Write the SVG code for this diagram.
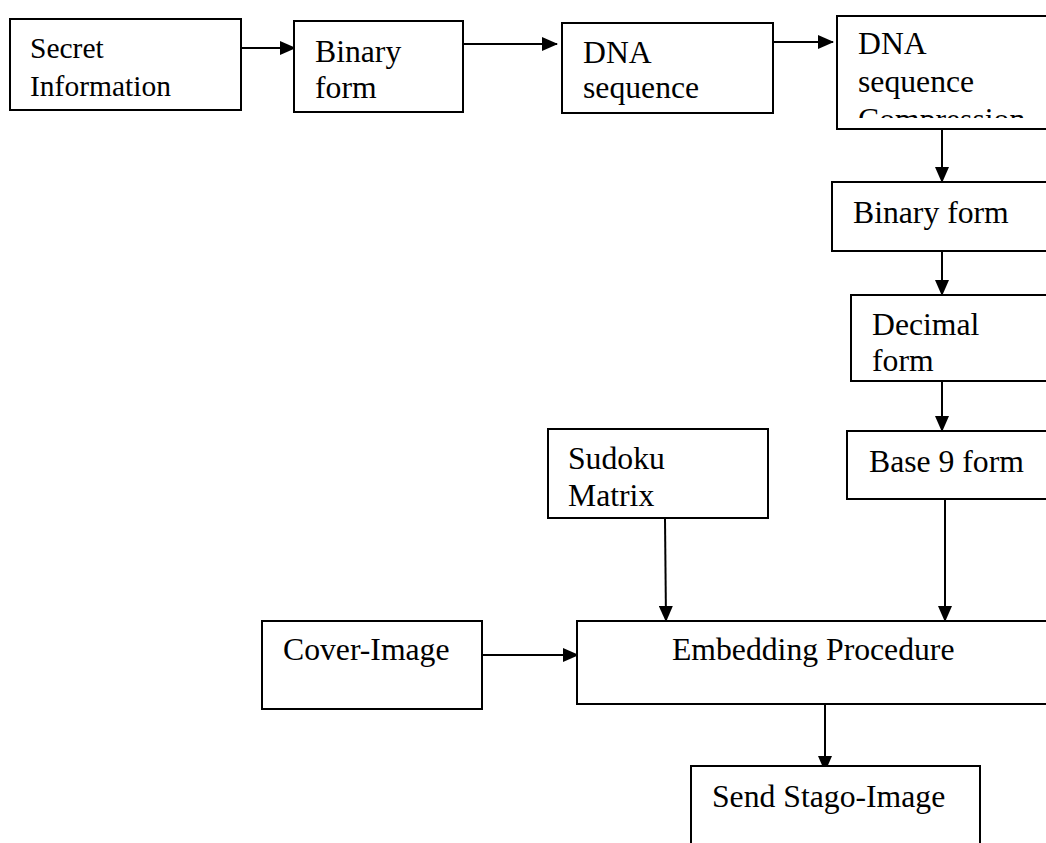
<svg xmlns="http://www.w3.org/2000/svg" width="1046" height="843" viewBox="0 0 1046 843">
<style>
.box{fill:#fff;stroke:#000;stroke-width:2}
.t{font-family:"Liberation Serif","Times New Roman",serif;font-size:31.7px;fill:#000}
.s{font-size:29.5px}
.c{stroke:#000;stroke-width:2;fill:none;marker-end:url(#ah)}
</style>
<defs>
<marker id="ah" markerUnits="userSpaceOnUse" markerWidth="16" markerHeight="14" refX="15" refY="7" orient="auto">
<path d="M0,0 L16,7 L0,14 Z" fill="#000"/>
</marker>
<clipPath id="clipC"><rect x="837" y="16" width="220" height="102"/></clipPath>
</defs>
<rect width="1046" height="843" fill="#fff"/>
<g id="connectors">
<line class="c" x1="241" y1="48" x2="295" y2="48"/>
<line class="c" x1="464" y1="44" x2="557" y2="44"/>
<line class="c" x1="773" y1="42" x2="833" y2="42"/>
<line class="c" x1="942" y1="129" x2="942" y2="182"/>
<line class="c" x1="942" y1="251" x2="942" y2="295"/>
<line class="c" x1="942" y1="381" x2="942" y2="431"/>
<line class="c" x1="945" y1="499" x2="945" y2="621"/>
<line class="c" x1="665" y1="519" x2="666" y2="621"/>
<line class="c" x1="482" y1="655" x2="578" y2="655"/>
<line class="c" x1="825" y1="704" x2="825" y2="771"/>
</g>
<g id="secret">
<rect class="box" x="10" y="19" width="231" height="91"/>
<text class="t s" x="30" y="58">Secret</text>
<text class="t s" x="30" y="96">Information</text>
</g>
<g id="binary1">
<rect class="box" x="294" y="21" width="169" height="91"/>
<text class="t" x="315" y="62">Binary</text>
<text class="t" x="315" y="98">form</text>
</g>
<g id="dna">
<rect class="box" x="562" y="23" width="211" height="90"/>
<text class="t" x="583" y="63">DNA</text>
<text class="t" x="583" y="98">sequence</text>
</g>
<g id="compression">
<rect class="box" x="837" y="16" width="220" height="113"/>
<g clip-path="url(#clipC)">
<text class="t" x="858" y="54">DNA</text>
<text class="t" x="858" y="92">sequence</text>
<text class="t" x="858" y="130">Compression</text>
</g>
</g>
<g id="binary2">
<rect class="box" x="832" y="182" width="225" height="69"/>
<text class="t" x="853" y="223">Binary form</text>
</g>
<g id="decimal">
<rect class="box" x="851" y="295" width="206" height="86"/>
<text class="t" x="872" y="335">Decimal</text>
<text class="t" x="872" y="371">form</text>
</g>
<g id="base9">
<rect class="box" x="847" y="431" width="210" height="68"/>
<text class="t" x="869" y="472">Base 9 form</text>
</g>
<g id="sudoku">
<rect class="box" x="548" y="429" width="220" height="89"/>
<text class="t" x="568" y="469">Sudoku</text>
<text class="t" x="568" y="506">Matrix</text>
</g>
<g id="cover">
<rect class="box" x="262" y="621" width="220" height="88"/>
<text class="t" x="283" y="660">Cover-Image</text>
</g>
<g id="embedding">
<rect class="box" x="577" y="621" width="480" height="83"/>
<text class="t" x="672" y="660">Embedding Procedure</text>
</g>
<g id="send">
<rect class="box" x="691" y="766" width="289" height="90"/>
<text class="t" x="712" y="807">Send Stago-Image</text>
</g>
</svg>
